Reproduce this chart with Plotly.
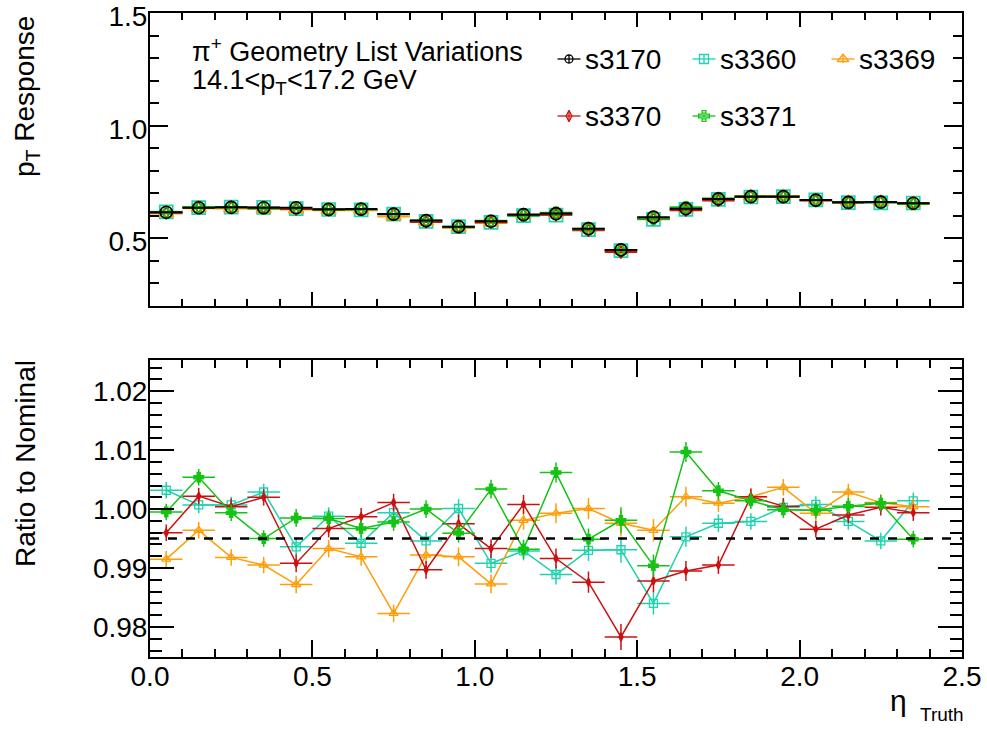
import plotly.graph_objects as go

# ---------------- data ----------------
eta_centers = [0.05, 0.15, 0.25, 0.35, 0.45, 0.55, 0.65, 0.75, 0.85, 0.95, 1.05, 1.15,
               1.25, 1.35, 1.45, 1.55, 1.65, 1.75, 1.85, 1.95, 2.05, 2.15, 2.25, 2.35]
eta_halfwidth = [0.05] * 24

nominal_response = [0.616, 0.636, 0.638, 0.636, 0.636, 0.629, 0.630, 0.608, 0.579, 0.552, 0.576, 0.605,
                    0.610, 0.543, 0.449, 0.594, 0.632, 0.675, 0.685, 0.685, 0.670, 0.660, 0.661, 0.656]

ratio_s3360 = [1.0032, 1.0007, 1.0007, 1.0029, 0.9936, 0.9988, 0.9942, 0.9994, 0.9946,
               1.0001, 0.9908, 0.9929, 0.9889, 0.9930, 0.9931, 0.9840, 0.9953,
               0.9976, 0.9979, 1.0003, 1.0008, 0.9979, 0.9946, 1.0014]
ratio_s3369 = [0.9915, 0.9964, 0.9918, 0.9905, 0.9872, 0.9933, 0.9919, 0.9823, 0.9922,
               0.9919, 0.9873, 0.9981, 0.9993, 1.0001, 0.9976, 0.9964, 1.0021,
               1.0010, 1.0021, 1.0037, 0.9993, 1.0029, 1.0011, 1.0004]
ratio_s3370 = [0.9960, 1.0022, 1.0004, 1.0020, 0.9908, 0.9967, 0.9987, 1.0011, 0.9897,
               0.9975, 0.9933, 1.0008, 0.9916, 0.9876, 0.9783, 0.9878, 0.9895,
               0.9905, 1.0021, 1.0005, 0.9966, 0.9990, 1.0003, 0.9994]
ratio_s3371 = [0.9995, 1.0054, 0.9994, 0.9950, 0.9985, 0.9984, 0.9967, 0.9978, 1.0000,
               0.9959, 1.0034, 0.9932, 1.0062, 0.9949, 0.9981, 0.9904, 1.0097,
               1.0031, 1.0014, 0.9999, 0.9998, 1.0005, 1.0010, 0.9949]
ratio_err = [0.0014, 0.0014, 0.0014, 0.0014, 0.0015, 0.0015, 0.0015, 0.0015, 0.0015, 0.0016, 0.0016, 0.0016,
             0.0017, 0.0018, 0.0022, 0.0019, 0.0017, 0.0015, 0.0014, 0.0014, 0.0014, 0.0014, 0.0014, 0.0014]

reference_level = 0.995
series_names = ["s3170", "s3360", "s3369", "s3370", "s3371"]
x_ticks = [0.0, 0.5, 1.0, 1.5, 2.0, 2.5]

# ---------------- styles ----------------
W, H = 987, 735
FONT = "Liberation Sans, Arial, sans-serif"
colors = {"s3170": "#000000", "s3360": "#1ed3ae", "s3369": "#ff9d0a", "s3370": "#cc1111", "s3371": "#14c314"}
sym_top = {"s3170": ("circle-open", 12), "s3360": ("square-open", 13), "s3369": ("triangle-up-open", 13),
           "s3370": ("diamond-tall-open", 9), "s3371": ("cross-open", 9)}
sym_leg = {"s3170": ("circle-open", 8), "s3360": ("square-open", 9), "s3369": ("triangle-up-open", 10),
           "s3370": ("diamond-tall-open", 8), "s3371": ("cross-open", 9)}
sym_bot = {"s3360": ("square-open", 8), "s3369": ("triangle-up-open", 8),
           "s3370": ("diamond-tall", 6), "s3371": ("cross", 8)}
top_draw_order = ["s3360", "s3369", "s3370", "s3371", "s3170"]

ratios = {"s3360": ratio_s3360, "s3369": ratio_s3369, "s3370": ratio_s3370, "s3371": ratio_s3371}

# panel frames in pixels
XL, XR = 150, 962
TOP_T, TOP_B = 13, 306
BOT_T, BOT_B = 360, 657


def px(x):
    return x / W


def py(y):
    return 1 - y / H


fig = go.Figure()

# ----- top panel: response -----
for name in top_draw_order:
    if name == "s3170":
        vals = nominal_response
    else:
        vals = [n * r for n, r in zip(nominal_response, ratios[name])]
    s, sz = sym_top[name]
    fig.add_trace(go.Scatter(
        x=eta_centers, y=vals, mode="markers", xaxis="x", yaxis="y",
        marker=dict(symbol=s, size=sz, color=colors[name], line=dict(width=1.7, color=colors[name])),
        error_x=dict(type="data", array=eta_halfwidth, width=0, thickness=2, color=colors[name]),
        showlegend=False, hoverinfo="x+y", name=name))

# ----- bottom panel: ratio -----
for name in ["s3360", "s3369", "s3370", "s3371"]:
    s, sz = sym_bot[name]
    fig.add_trace(go.Scatter(
        x=eta_centers, y=ratios[name], mode="lines+markers", xaxis="x2", yaxis="y2",
        line=dict(color=colors[name], width=1.5),
        marker=dict(symbol=s, size=sz, color=colors[name], line=dict(width=1.3, color=colors[name])),
        error_x=dict(type="data", array=eta_halfwidth, width=0, thickness=1.5, color=colors[name]),
        error_y=dict(type="data", array=ratio_err, width=0, thickness=1.5, color=colors[name]),
        showlegend=False, name=name))

# ----- manual legend (overlay axes on the top panel, in pixel units) -----
legend_pos = {"s3170": (569, 59), "s3360": (704, 59), "s3369": (843, 59),
              "s3370": (569, 116), "s3371": (704, 116)}
for name in series_names:
    lx, ly = legend_pos[name]
    s, sz = sym_leg[name]
    fig.add_trace(go.Scatter(
        x=[lx], y=[ly], mode="markers", xaxis="x3", yaxis="y3", cliponaxis=False,
        marker=dict(symbol=s, size=sz, color=colors[name], line=dict(width=1.3, color=colors[name])),
        error_x=dict(type="constant", value=11.5, width=0, thickness=1.3, color=colors[name]),
        error_y=dict(type="constant", value=4, width=0, thickness=1.3, color=colors[name]),
        showlegend=False, hoverinfo="skip"))
    fig.add_annotation(x=px(lx + 14), y=py(ly), xref="paper", yref="paper", text=name,
                       showarrow=False, xanchor="left", yanchor="middle",
                       font=dict(family=FONT, size=28, color="black"))

# reference dashed line
fig.add_shape(type="line", xref="x2 domain", yref="y2", x0=0, x1=1, y0=reference_level, y1=reference_level,
              line=dict(color="black", width=2.5, dash="dash"))

# text
fig.add_annotation(x=px(190), y=py(50), xref="paper", yref="paper",
                   text="π<sup>+</sup> Geometry List Variations", showarrow=False,
                   xanchor="left", yanchor="middle", font=dict(family=FONT, size=27, color="black"))
fig.add_annotation(x=px(190), y=py(82), xref="paper", yref="paper",
                   text="14.1&lt;p<sub>T</sub>&lt;17.2 GeV", showarrow=False,
                   xanchor="left", yanchor="middle", font=dict(family=FONT, size=27, color="black"))
fig.add_annotation(x=px(26), y=py(97), xref="paper", yref="paper",
                   text="p<sub>T</sub> Response", textangle=-90, showarrow=False,
                   xanchor="center", yanchor="middle", font=dict(family=FONT, size=28, color="black"))
fig.add_annotation(x=px(26), y=py(464), xref="paper", yref="paper",
                   text="Ratio to Nominal", textangle=-90, showarrow=False,
                   xanchor="center", yanchor="middle", font=dict(family=FONT, size=28, color="black"))
fig.add_annotation(x=px(909), y=py(700), xref="paper", yref="paper",
                   text="η", showarrow=False,
                   xanchor="right", yanchor="middle", font=dict(family=FONT, size=30, color="black"))
fig.add_annotation(x=px(918), y=py(714), xref="paper", yref="paper",
                   text="Truth", showarrow=False,
                   xanchor="left", yanchor="middle", font=dict(family=FONT, size=19, color="black"))

common = dict(showline=True, linecolor="black", linewidth=2, mirror="allticks", ticks="inside",
              tickcolor="black", tickwidth=2, showgrid=False, zeroline=False, automargin=False,
              ticklabeloverflow="allow")

xd = [px(XL), px(XR)]
fig.update_layout(
    width=W, height=H, margin=dict(l=0, r=0, t=0, b=0, pad=0, autoexpand=False),
    paper_bgcolor="white", plot_bgcolor="white", showlegend=False,
    xaxis=dict(domain=xd, range=[0, 2.5], anchor="y", tickvals=x_ticks, showticklabels=False,
               ticklen=14, minor=dict(dtick=0.1, ticklen=7, tickcolor="black", tickwidth=2, ticks="inside"),
               **common),
    yaxis=dict(domain=[py(TOP_B), py(TOP_T)], range=[0.2, 1.50001], anchor="x", tick0=0, dtick=0.5,
               tickformat=".1f", ticklen=18, ticklabelstandoff=-5, ticklabelshift=3,
               tickfont=dict(family=FONT, size=28, color="black"),
               minor=dict(dtick=0.1, ticklen=9, tickcolor="black", tickwidth=2, ticks="inside"),
               **common),
    xaxis2=dict(domain=xd, range=[0, 2.5], anchor="y2", tickvals=x_ticks, ticktext=[f"{v:.1f}" for v in x_ticks],
                ticklen=17, ticklabelstandoff=-7, tickfont=dict(family=FONT, size=28, color="black"),
                minor=dict(dtick=0.1, ticklen=8, tickcolor="black", tickwidth=2, ticks="inside"),
                **common),
    yaxis2=dict(domain=[py(BOT_B), py(BOT_T)], range=[0.9749, 1.0253], anchor="x2", tick0=0, dtick=0.01,
                tickformat=".2f", ticklen=24, ticklabelstandoff=-5,
                tickfont=dict(family=FONT, size=28, color="black"),
                minor=dict(dtick=0.002, ticklen=12, tickcolor="black", tickwidth=2, ticks="inside"),
                **common),
    xaxis3=dict(range=[XL, XR], anchor="y3", visible=False, overlaying="x", automargin=False),
    yaxis3=dict(range=[TOP_B, TOP_T], anchor="x3", visible=False, overlaying="y", automargin=False),
)

fig.write_html("out.html")
